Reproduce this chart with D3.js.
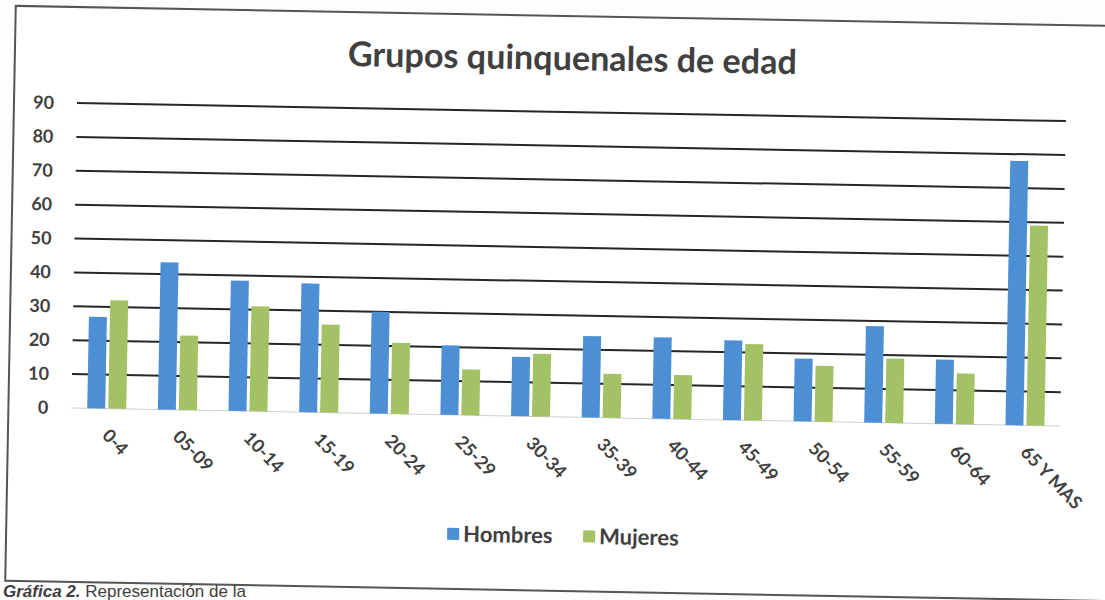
<html>
<head>
    <meta charset="utf-8">
    <script src="https://d3js.org/d3.v7.min.js"></script>
    <style>
        body { margin: 0; background: #fdfdfd; }
        text { font-family: Lato, "Open Sans", sans-serif; fill: #404040; }
    </style>
</head>

<body>
    <svg id="chart"></svg>

    <script>
        // datos
        var Grupos = ["0-4", "05-09", "10-14", "15-19", "20-24", "25-29", "30-34",
                      "35-39", "40-44", "45-49", "50-54", "55-59", "60-64", "65 Y MAS"];
        var Hombres = [27, 43.5, 38.5, 38, 30, 20.5, 17.5, 24, 24, 23.5, 18.5, 28.5, 19, 78];
        var Mujeres = [32, 22, 31, 26, 21, 13.5, 18.5, 13, 13, 22.5, 16.5, 19, 15, 59];
        var Series = ["Hombres", "Mujeres"];
        var Colores = ["#4d8fd5", "#a3c266"];
        var TicksY = [0, 10, 20, 30, 40, 50, 60, 70, 80, 90];
        var Titulo = "Grupos quinquenales de edad";

        var W = 1105, H = 600;
        var Left = 77, Right = 1066, Top = 103, Bottom = 408;
        var Skew = 1.05; // la hoja escaneada esta un poco girada

        var rows = Grupos.map(function(g, i) {
            return { grupo: g, valores: [Hombres[i], Mujeres[i]] };
        });

        var svg = d3.select("#chart").attr("width", W).attr("height", H);
        var page = svg.append("g")
            .attr("transform", "rotate(" + Skew + " " + Left + " " + Top + ")");

        // marco
        page.append("rect")
            .attr("x", 14).attr("y", 7)
            .attr("width", 1200).attr("height", 575)
            .attr("fill", "white")
            .attr("stroke", "#555").attr("stroke-width", 2);

        var x = d3.scaleBand().domain(Grupos).range([Left, Right]);
        var x1 = d3.scaleBand().domain(Series).range([0, 39]).paddingInner(3 / 21);
        var y = d3.scaleLinear().domain([0, 90]).range([Bottom, Top]);

        // lineas de division
        page.append("g").selectAll("line")
            .data(TicksY)
            .enter().append("line")
            .attr("x1", Left).attr("x2", Right)
            .attr("y1", function(d){ return y(d); })
            .attr("y2", function(d){ return y(d); })
            .attr("stroke", function(d){ return d === 0 ? "#cfcfcf" : "#262626"; })
            .attr("stroke-width", function(d){ return d === 0 ? 1 : 2; });

        // barras
        var groups = page.append("g").selectAll("g")
            .data(rows)
            .enter().append("g")
            .attr("transform", function(d){
                return "translate(" + (x(d.grupo) + x.bandwidth() / 2 - 19.5) + ",0)";
            });

        groups.selectAll("rect")
            .data(function(d){ return d.valores; })
            .enter().append("rect")
            .attr("x", function(d, i){ return x1(Series[i]); })
            .attr("width", x1.bandwidth())
            .attr("y", function(d){ return y(d); })
            .attr("height", function(d){ return y(0) - y(d); })
            .attr("fill", function(d, i){ return Colores[i]; });

        // eje Y
        var axisY = page.append("g")
            .attr("transform", "translate(54,0)")
            .call(d3.axisLeft(y).tickValues(TicksY).tickSize(0).tickPadding(0));
        axisY.select(".domain").remove();
        axisY.selectAll("text")
            .style("font-family", "Lato, sans-serif")
            .style("font-weight", "bold")
            .style("font-size", "18px")
            .attr("fill", "#404040");

        // eje X
        var axisX = page.append("g")
            .attr("transform", "translate(0,436)")
            .call(d3.axisBottom(x).tickSize(0));
        axisX.select(".domain").remove();
        axisX.selectAll("text")
            .attr("y", 0).attr("dy", 0)
            .attr("text-anchor", "start")
            .attr("transform", "translate(-5,0) rotate(45)")
            .style("font-family", "Lato, sans-serif")
            .style("font-weight", "bold")
            .style("font-size", "18px")
            .attr("fill", "#404040");

        // titulo
        var title = page.append("text")
            .attr("x", (Left + Right) / 2).attr("y", 61)
            .attr("text-anchor", "middle")
            .style("font-weight", "bold")
            .style("font-size", "28px")
            .text(Titulo);
        var tw = title.node().getComputedTextLength();
        title.style("font-size", (28 * 449 / tw) + "px");

        // leyenda
        var legend = page.append("g").selectAll("g")
            .data(Series)
            .enter().append("g")
            .attr("transform", function(d, i){ return "translate(" + (455 + i * 136) + ",527)"; });
        legend.append("rect")
            .attr("x", 0).attr("y", -6)
            .attr("width", 12).attr("height", 12)
            .attr("fill", function(d, i){ return Colores[i]; });
        legend.append("text")
            .attr("x", 16).attr("y", 7.5)
            .style("font-weight", "bold")
            .style("font-size", "22px")
            .text(function(d){ return d; });

        // pie del grafico
        var pie = svg.append("text")
            .attr("x", 3).attr("y", 597)
            .style("font-family", "'Liberation Sans', Arial, sans-serif")
            .style("font-size", "17px")
            .attr("fill", "#222");
        pie.append("tspan").style("font-weight", "bold").style("font-style", "italic").text("Gráfica 2.");
        pie.append("tspan").text(" Representación de la");
    </script>
</body>
</html>
